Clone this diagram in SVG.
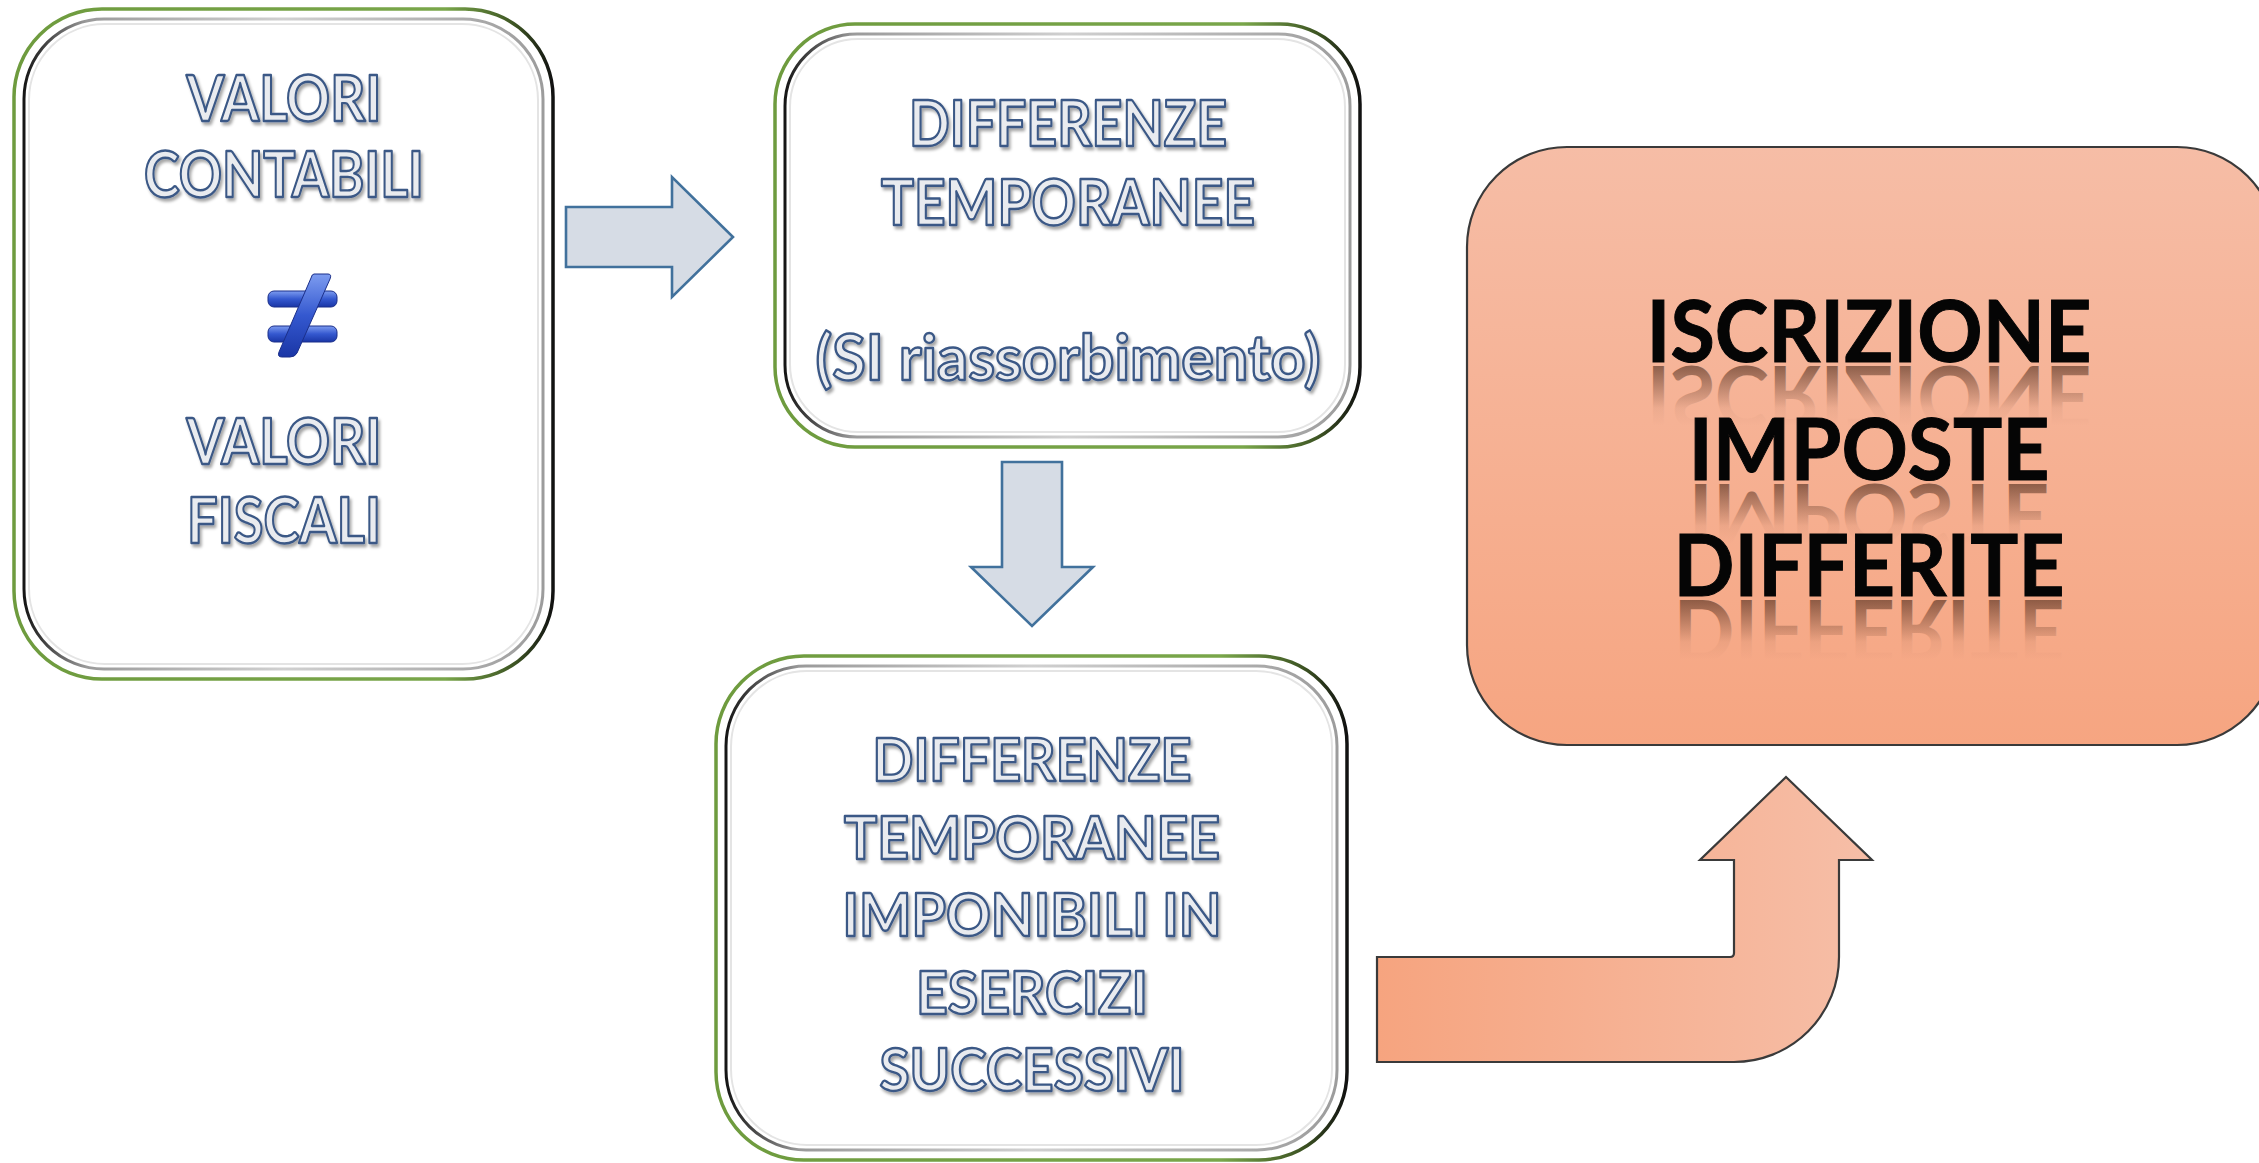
<svg xmlns="http://www.w3.org/2000/svg" width="2259" height="1163" viewBox="0 0 2259 1163">
<defs>
<style>
.lbl{font-family:Lato,"Open Sans","Liberation Sans",sans-serif;font-weight:700;fill:#e9ebef;stroke:#3b5886;stroke-width:2.4;stroke-linejoin:round;text-anchor:middle;filter:url(#sh)}
.big{font-family:Lato,"Liberation Sans",sans-serif;font-weight:700;font-size:86px;text-anchor:middle}
.blk{fill:#050505;stroke:#050505;stroke-width:1}
.refl{fill:url(#reflG)}
.frameOut{fill:#ffffff;stroke:url(#gOut);stroke-width:3.5}
.frameIn{fill:none;stroke:url(#gIn);stroke-width:3}
.frameIn2{fill:none;stroke:#e4e4e4;stroke-width:2}
.blueArrow{fill:#d6dce5;stroke:#41719c;stroke-width:2.6;stroke-linejoin:miter}
.orange{stroke:#3a3a3a;stroke-width:2.2}
</style>
<filter id="sh" x="-10%" y="-30%" width="120%" height="160%">
<feDropShadow dx="2" dy="3" stdDeviation="1.6" flood-color="#000" flood-opacity="0.35"/>
</filter>
<linearGradient id="gOut" x1="0" y1="0" x2="1" y2="0">
<stop offset="0" stop-color="#6e9b3e"/>
<stop offset="0.8" stop-color="#79a64a"/>
<stop offset="0.93" stop-color="#3d5423"/>
<stop offset="1" stop-color="#111"/>
</linearGradient>
<linearGradient id="gIn" x1="0" y1="0" x2="1" y2="0">
<stop offset="0" stop-color="#151515"/>
<stop offset="0.12" stop-color="#9a9a9a"/>
<stop offset="0.5" stop-color="#d0d0d0"/>
<stop offset="1" stop-color="#9c9c9c"/>
</linearGradient>
<linearGradient id="gBox" x1="0" y1="0" x2="0" y2="1">
<stop offset="0" stop-color="#f6bda6"/>
<stop offset="1" stop-color="#f6a581"/>
</linearGradient>
<linearGradient id="gArr" x1="0" y1="0" x2="1" y2="0">
<stop offset="0" stop-color="#f6a47f"/>
<stop offset="1" stop-color="#f6bea7"/>
</linearGradient>
<linearGradient id="reflG" gradientUnits="userSpaceOnUse" x1="0" y1="-60" x2="0" y2="0">
<stop offset="0" stop-color="#3a1a0c" stop-opacity="0"/>
<stop offset="0.3" stop-color="#3a1a0c" stop-opacity="0.05"/>
<stop offset="1" stop-color="#3a1a0c" stop-opacity="0.55"/>
</linearGradient>
<linearGradient id="gNe" x1="0" y1="0" x2="0" y2="1">
<stop offset="0" stop-color="#7d9cf0"/>
<stop offset="0.5" stop-color="#3458cf"/>
<stop offset="1" stop-color="#1a36a6"/>
</linearGradient>
</defs>

<g id="connectors">
<polygon id="arrow-right" class="blueArrow" points="566,207 672,207 672,177 733,237 672,297 672,267 566,267"/>
<polygon id="arrow-down" class="blueArrow" points="1002,462 1062,462 1062,567 1093,567 1032,626 971,567 1002,567"/>
<path id="arrow-bent" class="orange" fill="url(#gArr)" d="M1377,957 H1730 Q1734,957 1734,953 V860 H1700 L1786,777 L1872,860 H1839 V957 A105,105 0 0 1 1734,1062 H1377 Z"/>
</g>

<g id="node-valori">
<rect class="frameOut" x="14" y="9" width="539" height="670" rx="88"/>
<rect class="frameIn" x="24" y="19" width="519" height="650" rx="80"/>
<rect class="frameIn2" x="29" y="24" width="509" height="640" rx="76"/>
<text class="lbl" x="284" y="121" font-size="64" textLength="195" lengthAdjust="spacingAndGlyphs">VALORI</text>
<text class="lbl" x="284" y="197" font-size="64" textLength="280" lengthAdjust="spacingAndGlyphs">CONTABILI</text>
<g id="not-equal" fill="url(#gNe)" stroke="#1b2f8a" stroke-width="1">
<rect x="268" y="291" width="69" height="16" rx="6"/>
<rect x="268" y="326" width="69" height="16" rx="6"/>
<path d="M314,274 H328 Q332,274 330,279 L297,353 Q295,357 290,357 H282 Q277,357 279,352 L311,278 Q312,274 314,274 Z"/>
</g>
<text class="lbl" x="284" y="464" font-size="64" textLength="195" lengthAdjust="spacingAndGlyphs">VALORI</text>
<text class="lbl" x="284" y="543" font-size="64" textLength="194" lengthAdjust="spacingAndGlyphs">FISCALI</text>
</g>

<g id="node-differenze">
<rect class="frameOut" x="775" y="24" width="585" height="423" rx="80"/>
<rect class="frameIn" x="785" y="34" width="565" height="403" rx="72"/>
<rect class="frameIn2" x="790" y="39" width="555" height="393" rx="68"/>
<text class="lbl" x="1068" y="146" font-size="63" textLength="318" lengthAdjust="spacingAndGlyphs">DIFFERENZE</text>
<text class="lbl" x="1068" y="225" font-size="63" textLength="374" lengthAdjust="spacingAndGlyphs">TEMPORANEE</text>
<text class="lbl" x="1068" y="380" font-size="63" textLength="505" lengthAdjust="spacingAndGlyphs">(SI riassorbimento)</text>
</g>

<g id="node-imponibili">
<rect class="frameOut" x="716" y="656" width="631" height="504" rx="88"/>
<rect class="frameIn" x="726" y="666" width="611" height="484" rx="80"/>
<rect class="frameIn2" x="731" y="671" width="601" height="474" rx="76"/>
<text class="lbl" x="1032" y="781" font-size="60" textLength="319" lengthAdjust="spacingAndGlyphs">DIFFERENZE</text>
<text class="lbl" x="1032" y="859" font-size="60" textLength="376" lengthAdjust="spacingAndGlyphs">TEMPORANEE</text>
<text class="lbl" x="1032" y="936" font-size="60" textLength="379" lengthAdjust="spacingAndGlyphs">IMPONIBILI IN</text>
<text class="lbl" x="1032" y="1014" font-size="60" textLength="232" lengthAdjust="spacingAndGlyphs">ESERCIZI</text>
<text class="lbl" x="1032" y="1091" font-size="60" textLength="305" lengthAdjust="spacingAndGlyphs">SUCCESSIVI</text>
</g>

<g id="node-iscrizione">
<rect class="orange" fill="url(#gBox)" x="1467" y="147" width="810" height="598" rx="100"/>
<g transform="translate(1869,366) scale(1,-1)"><text class="big refl" x="0" y="0" textLength="445" lengthAdjust="spacingAndGlyphs">ISCRIZIONE</text></g>
<g transform="translate(1869,484) scale(1,-1)"><text class="big refl" x="0" y="0" textLength="361" lengthAdjust="spacingAndGlyphs">IMPOSTE</text></g>
<g transform="translate(1869,600) scale(1,-1)"><text class="big refl" x="0" y="0" textLength="391" lengthAdjust="spacingAndGlyphs">DIFFERITE</text></g>
<text class="big blk" x="1869" y="362" textLength="445" lengthAdjust="spacingAndGlyphs">ISCRIZIONE</text>
<text class="big blk" x="1869" y="480" textLength="361" lengthAdjust="spacingAndGlyphs">IMPOSTE</text>
<text class="big blk" x="1869" y="596" textLength="391" lengthAdjust="spacingAndGlyphs">DIFFERITE</text>
</g>
</svg>
